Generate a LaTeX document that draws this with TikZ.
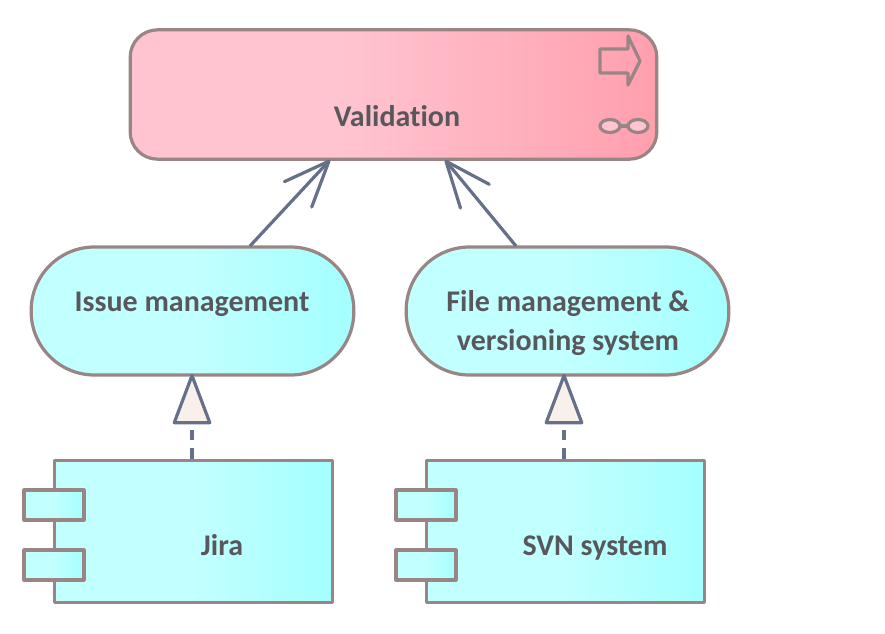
\documentclass[tikz,border=0pt]{standalone}
\usepackage{fontspec}
\setmainfont{Carlito}[Ligatures=CommonOff]
\usetikzlibrary{arrows.meta}
\definecolor{edgeline}{HTML}{9A8585}
\definecolor{linkline}{HTML}{677089}
\definecolor{labeltext}{HTML}{58585C}
\definecolor{pinklo}{HTML}{FFC4D0}
\definecolor{pinkhi}{HTML}{FF9FAE}
\definecolor{cyanlo}{HTML}{C2FFFF}
\definecolor{cyanhi}{HTML}{A6FFFF}
\definecolor{headfill}{HTML}{F9F0EB}
\pgfdeclarehorizontalshading{pinkshade}{100bp}{color(0bp)=(pinklo); color(45bp)=(pinklo); color(75bp)=(pinkhi); color(100bp)=(pinkhi)}
\pgfdeclarehorizontalshading{cyanshade}{100bp}{color(0bp)=(cyanlo); color(50bp)=(cyanlo); color(73bp)=(cyanhi); color(100bp)=(cyanhi)}
\tikzset{
  boxline/.style={draw=edgeline, line width=2.4pt, line join=round, inner sep=0pt, outer sep=0pt},
  valbox/.style={boxline, shading=pinkshade, rounded corners=20.5pt, minimum width=395pt, minimum height=97pt},
  termbox/.style={boxline, shading=cyanshade, rounded corners=47.5pt, minimum width=242pt, minimum height=96pt},
  compbox/.style={boxline, shading=cyanshade, minimum width=209pt, minimum height=107pt},
  portbox/.style={boxline, shading=cyanshade, minimum width=45pt, minimum height=22.5pt},
  txt/.style={font=\bfseries\fontsize{22.5}{27}\selectfont, text=labeltext, align=center, inner sep=0pt, anchor=base},
  icon/.style={draw=edgeline, line width=2.4pt, line join=round},
  flow/.style={draw=linkline, line width=2.4pt, -{Straight Barb[length=34pt, width=28pt, round]}},
  real/.style={draw=linkline, line width=2.4pt, dash pattern=on 8pt off 6pt,
    -{Triangle[open, length=40pt, width=29.5pt, fill=headfill, round]}}
}
\begin{document}
\begin{tikzpicture}[x=.75pt, y=-.75pt]
\useasboundingbox (0,0) rectangle (885,633);
\node[valbox] (validation) at (393.5,94.5){};
\node[txt] (validationtxt) at (397,126){Validation};
\draw[icon] (600,49) -- (628,49) -- (628,36) -- (640,61) -- (628,85) -- (628,73) -- (600,73) -- cycle;
\draw[icon, fill=pinklo] (610,126) ellipse (10 and 6.5);
\draw[icon, fill=pinklo] (638,126) ellipse (10 and 6.5);
\draw[icon] (620,126) -- (628,126);
\node[termbox] (issue) at (192.5,311){};
\node[txt] (issuetxt) at (192,311){Issue management};
\node[termbox] (file) at (567.5,311){};
\node[txt] (filetxt) at (568,350){File management \&\\[2pt]versioning system};
\node[compbox] (jira) at (193.5,531.5){};
\node[portbox] (jiraa) at (54,505){};
\node[portbox] (jirab) at (54,565){};
\node[txt] (jiratxt) at (222,555){Jira};
\node[compbox] (svn) at (565.5,531.5){};
\node[portbox] (svna) at (426,505){};
\node[portbox] (svnb) at (426,565){};
\node[txt] (svntxt) at (595,555){SVN system};
\coordinate (issueout) at (250,246);
\coordinate (valin) at (330,160);
\coordinate (fileout) at (516,246);
\coordinate (valinb) at (445,160);
\draw[flow] (issueout) -- (valin);
\draw[flow] (fileout) -- (valinb);
\coordinate (jiraout) at (192,459);
\coordinate (issuein) at (192,374);
\coordinate (svnout) at (564,459);
\coordinate (filein) at (564,374);
\draw[real] (jiraout) -- (issuein);
\draw[real] (svnout) -- (filein);
\end{tikzpicture}
\end{document}
